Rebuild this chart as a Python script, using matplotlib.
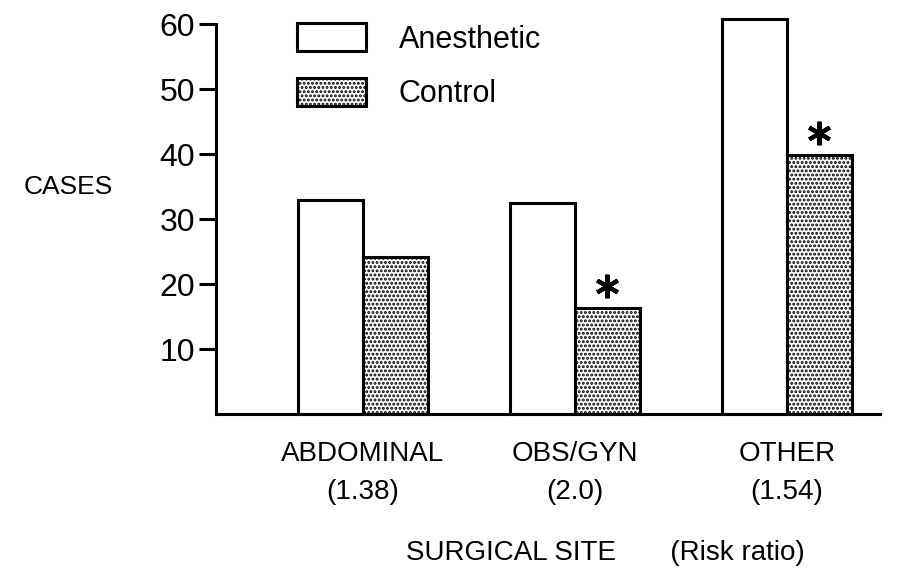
import matplotlib
matplotlib.use("Agg")
import matplotlib.pyplot as plt
import numpy as np
from matplotlib.transforms import offset_copy

# data
sites = ["ABDOMINAL", "OBS/GYN", "OTHER"]
risk_ratio = ["1.38", "2.0", "1.54"]
anesthetic = [33.0, 32.5, 60.7]
control = [24.2, 16.3, 39.8]
significant = [False, True, True]
yticks = [10, 20, 30, 40, 50, 60]

plt.rcParams["font.family"] = ["Liberation Sans", "DejaVu Sans"]
plt.rcParams["hatch.linewidth"] = 1.4
plt.rcParams["hatch.color"] = "black"

fig = plt.figure(figsize=(9, 5.8), dpi=100)
ax = fig.add_axes([0.24, 0.286, 0.738, 0.695])

x = np.arange(len(sites))
w = 0.307
lw = 2.2
ax.bar(x - w / 2, anesthetic, w, color="white", edgecolor="black",
       linewidth=lw, label="Anesthetic", clip_on=False)
ax.bar(x + w / 2, control, w, color="white", edgecolor="black", hatch="....",
       linewidth=lw, label="Control", clip_on=False)

# asterisks for significant differences, a fixed distance above the bar
sig = np.array(significant)
tr = offset_copy(ax.transData, fig=fig, y=16, units="points")
ax.plot((x + w / 2)[sig], np.array(control)[sig], ls="none", marker=(6, 2, 0),
        ms=17, mew=3.0, color="black", transform=tr, clip_on=False)

ax.set_xlim(-0.693, 2.44)
ax.set_ylim(0, 62)
ax.spines["top"].set_visible(False)
ax.spines["right"].set_visible(False)
ax.spines["left"].set_linewidth(lw)
ax.spines["bottom"].set_linewidth(lw)
ax.spines["left"].set_bounds(0, 60)

ax.set_yticks(yticks)
ax.tick_params(axis="y", length=12, width=lw, labelsize=23, pad=3)
ax.set_xticks(x)
ax.set_xticklabels([f"{s}\n({r})" for s, r in zip(sites, risk_ratio)],
                   fontsize=20, linespacing=1.6)
ax.tick_params(axis="x", length=0, pad=19)

ax.set_xlabel("SURGICAL SITE       (Risk ratio)", fontsize=20, va="center")
ax.xaxis.set_label_coords(0.586, -0.345)
fig.text(113 / 900, 1 - 187 / 580, "CASES", fontsize=19, ha="right", va="center")

ax.legend(loc="upper left", bbox_to_anchor=(297 / 900, 1 - 23 / 580),
          bbox_transform=fig.transFigure, frameon=False, fontsize=22,
          handlelength=2.25, handleheight=1.05, handletextpad=1.08,
          labelspacing=0.75, borderpad=0, borderaxespad=0)

fig.savefig("out.png", dpi=100)
